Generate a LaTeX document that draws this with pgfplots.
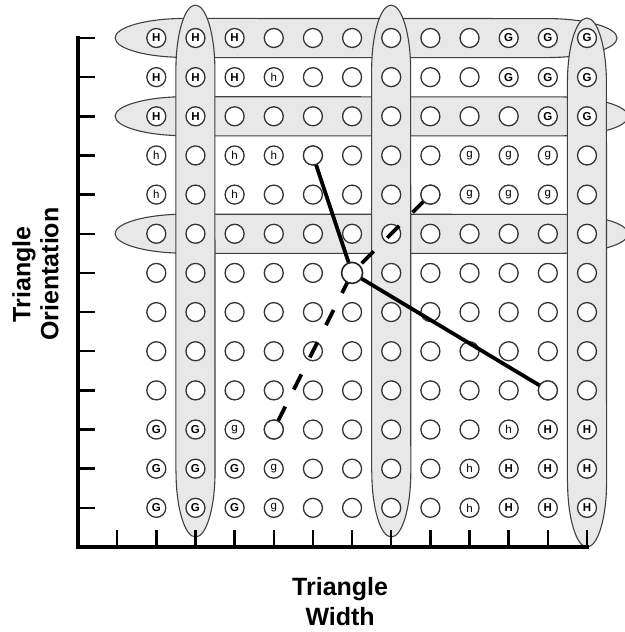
\documentclass[border=0pt]{standalone}
\usepackage{pgfplots}
\pgfplotsset{compat=1.18}
\usepackage{fontspec}
\setmainfont{Liberation Sans}

\tikzset{
  band/.style={fill=gray!18, draw=black!75, line width=1.1pt},
}
\pgfplotsset{
  circ/.style={only marks, mark=*, mark size=9.5pt,
    mark options={fill=white, draw=black!80, line width=1.3pt}},
  lab/.style={circ, nodes near coords={#1},
    every node near coord/.append style={anchor=center, inner sep=0pt,
      font=\fontsize{11.5}{13}\selectfont, text=black}},
}

\begin{document}
\begin{tikzpicture}
\begin{axis}[
  name=ax,
  scale only axis, width=509pt, height=509pt,
  xmin=0, xmax=13, ymin=0, ymax=13,
  axis x line=bottom, axis y line=left,
  axis line style={-, line width=4pt, line cap=rect, black},
  xtick={1,...,13}, ytick={1,...,13},
  xticklabels={}, yticklabels={},
  tick align=inside, major tick length=17pt,
  tick style={line width=2.5pt, black},
  axis on top, clip=false, clip marker paths=true,
  xlabel={Triangle\\Width},
  xlabel style={at={(axis description cs:0.515,0)}, anchor=north, yshift=-30pt,
    align=center, inner sep=0pt, font=\fontsize{25}{30}\selectfont\bfseries},
  ylabel={Triangle\\Orientation},
  ylabel style={at={(axis description cs:-0.1297,0.536)}, anchor=north,
    align=center, inner sep=0pt, font=\fontsize{25}{28}\selectfont\bfseries},
]

% horizontal bands (rows 13, 11, 8)
\draw[band] (axis cs:2.735,12.5) -- (axis cs:11.98,12.5)
  arc[start angle=-90, end angle=90, x radius=70pt, y radius=19.5pt]
  -- (axis cs:2.735,13.5)
  arc[start angle=90, end angle=270, x radius=70pt, y radius=19.5pt] -- cycle;
\draw[band] (axis cs:2.735,10.5) -- (axis cs:12.26,10.5)
  arc[start angle=-90, end angle=90, x radius=70pt, y radius=19.5pt]
  -- (axis cs:2.735,11.5)
  arc[start angle=90, end angle=270, x radius=70pt, y radius=19.5pt] -- cycle;
\draw[band] (axis cs:2.735,7.5) -- (axis cs:12.26,7.5)
  arc[start angle=-90, end angle=90, x radius=70pt, y radius=19.5pt]
  -- (axis cs:2.735,8.5)
  arc[start angle=90, end angle=270, x radius=70pt, y radius=19.5pt] -- cycle;

% vertical bands (columns 3, 8, 13)
\draw[band] (axis cs:2.5,1.915) -- (axis cs:2.5,12.18)
  arc[start angle=180, end angle=0, x radius=19.5pt, y radius=65pt]
  -- (axis cs:3.5,1.915)
  arc[start angle=0, end angle=-180, x radius=19.5pt, y radius=65pt] -- cycle;
\draw[band] (axis cs:7.5,1.915) -- (axis cs:7.5,12.18)
  arc[start angle=180, end angle=0, x radius=19.5pt, y radius=65pt]
  -- (axis cs:8.5,1.915)
  arc[start angle=0, end angle=-180, x radius=19.5pt, y radius=65pt] -- cycle;
\draw[band] (axis cs:12.5,1.66) -- (axis cs:12.5,11.85)
  arc[start angle=180, end angle=0, x radius=19.5pt, y radius=65pt]
  -- (axis cs:13.5,1.66)
  arc[start angle=0, end angle=-180, x radius=19.5pt, y radius=65pt] -- cycle;

% empty cells
\addplot[circ] coordinates {
  (5,13) (6,13) (7,13) (8,13) (9,13) (10,13)
  (6,12) (7,12) (8,12) (9,12) (10,12)
  (4,11) (5,11) (6,11) (7,11) (8,11) (9,11) (10,11) (11,11)
  (3,10) (6,10) (7,10) (8,10) (9,10) (13,10)
  (3,9) (5,9) (6,9) (7,9) (8,9) (9,9) (13,9)
  (2,8) (3,8) (4,8) (5,8) (6,8) (7,8) (8,8) (9,8) (10,8) (11,8) (12,8) (13,8)
  (2,7) (3,7) (4,7) (5,7) (6,7) (7,7) (8,7) (9,7) (10,7) (11,7) (12,7) (13,7)
  (2,6) (3,6) (4,6) (5,6) (6,6) (7,6) (8,6) (9,6) (10,6) (11,6) (12,6) (13,6)
  (2,5) (3,5) (4,5) (5,5) (6,5) (7,5) (8,5) (9,5) (10,5) (11,5) (12,5) (13,5)
  (2,4) (3,4) (4,4) (5,4) (6,4) (7,4) (8,4) (9,4) (10,4) (11,4) (12,4) (13,4)
  (5,3) (6,3) (7,3) (8,3) (9,3) (10,3)
  (6,2) (7,2) (8,2) (9,2)
  (6,1) (7,1) (8,1) (9,1)
};
% lettered cells
\addplot[lab={\bfseries H}] coordinates {
  (2,13) (3,13) (4,13) (2,12) (3,12) (4,12) (2,11) (3,11)
  (12,3) (13,3) (11,2) (12,2) (13,2) (11,1) (12,1) (13,1)
};
\addplot[lab={h}] coordinates {
  (5,12) (2,10) (4,10) (5,10) (2,9) (4,9) (11,3) (10,2) (10,1)
};
\addplot[lab={\bfseries G}] coordinates {
  (11,13) (12,13) (13,13) (11,12) (12,12) (13,12) (12,11) (13,11)
  (2,3) (3,3) (2,2) (3,2) (4,2) (2,1) (3,1) (4,1)
};
\addplot[lab={g}] coordinates {
  (10,10) (11,10) (12,10) (10,9) (11,9) (12,9) (4,3) (5,2) (5,1)
};

% paths
\addplot[black, mark=none, line width=3.8pt] coordinates {(6,10) (7,7) (12,4)};
\addplot[black, mark=none, line width=3.8pt, dash pattern=on 17pt off 19pt,
  dash phase=27.3pt] coordinates {(5,3) (7,7) (9,9)};

% end points on top
\addplot[circ] coordinates {(6,10) (12,4) (5,3) (9,9)};
\addplot[circ, mark size=10.5pt, mark options={fill=white, draw=black!85, line width=1.6pt}]
  coordinates {(7,7)};
\end{axis}
\pgfresetboundingbox
\path[use as bounding box] ([shift={(-78pt,-85pt)}]ax.south west)
  rectangle ([shift={(38pt,38pt)}]ax.north east);
\end{tikzpicture}
\end{document}
